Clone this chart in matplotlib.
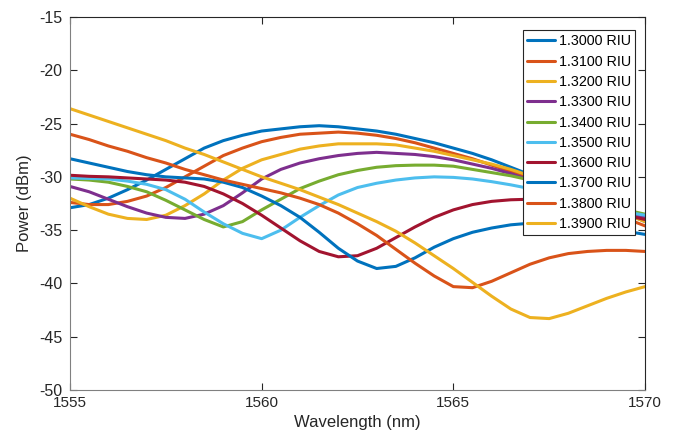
import numpy as np
import matplotlib
matplotlib.use("Agg")
import matplotlib.pyplot as plt

plt.rcParams['font.family'] = ['Liberation Sans', 'DejaVu Sans']
plt.rcParams['axes.unicode_minus'] = False

wavelength = np.arange(1555.0, 1570.01, 0.5)

labels = ['1.3000 RIU', '1.3100 RIU', '1.3200 RIU', '1.3300 RIU', '1.3400 RIU',
          '1.3500 RIU', '1.3600 RIU', '1.3700 RIU', '1.3800 RIU', '1.3900 RIU']

p_1300 = [-32.9, -32.6, -32.0, -31.2, -30.3, -29.3, -28.3, -27.3, -26.6, -26.1,
          -25.7, -25.5, -25.3, -25.2, -25.3, -25.5, -25.7, -26.0, -26.4, -26.8,
          -27.3, -27.8, -28.4, -29.1, -29.8, -30.5, -31.2, -31.9, -32.7, -33.4, -34.2]
p_1310 = [-32.4, -32.6, -32.6, -32.3, -31.8, -31.0, -30.0, -29.0, -28.0, -27.3,
          -26.7, -26.3, -26.0, -25.9, -25.8, -25.9, -26.1, -26.4, -26.8, -27.3,
          -27.8, -28.3, -28.9, -29.5, -30.1, -30.8, -31.6, -32.4, -33.1, -33.9, -34.6]
p_1320 = [-32.0, -32.8, -33.5, -33.9, -34.0, -33.6, -32.7, -31.6, -30.3, -29.2,
          -28.4, -27.9, -27.4, -27.1, -26.9, -26.9, -26.9, -27.0, -27.3, -27.6,
          -28.0, -28.4, -28.8, -29.3, -29.9, -30.6, -31.3, -32.1, -32.8, -33.5, -34.2]
p_1330 = [-30.9, -31.4, -32.1, -32.8, -33.4, -33.8, -33.9, -33.5, -32.7, -31.5,
          -30.2, -29.3, -28.7, -28.3, -28.0, -27.8, -27.7, -27.8, -27.9, -28.1,
          -28.4, -28.8, -29.2, -29.7, -30.3, -31.0, -31.6, -32.3, -32.9, -33.4, -33.8]
p_1340 = [-30.2, -30.3, -30.5, -30.9, -31.4, -32.2, -33.1, -34.0, -34.7, -34.2,
          -33.1, -32.1, -31.1, -30.4, -29.8, -29.4, -29.1, -28.95, -28.9, -28.9,
          -29.0, -29.3, -29.6, -29.9, -30.3, -30.8, -31.4, -32.0, -32.6, -33.1, -33.5]
p_1350 = [-30.1, -30.15, -30.2, -30.4, -30.7, -31.2, -32.1, -33.3, -34.4, -35.3,
          -35.8, -35.0, -33.8, -32.7, -31.7, -31.0, -30.6, -30.3, -30.1, -30.0,
          -30.05, -30.2, -30.45, -30.75, -31.1, -31.6, -32.1, -32.6, -33.0, -33.3, -33.6]
p_1360 = [-29.85, -29.95, -30.0, -30.1, -30.2, -30.3, -30.5, -30.9, -31.6, -32.5,
          -33.6, -34.8, -36.0, -37.0, -37.5, -37.4, -36.7, -35.7, -34.7, -33.8,
          -33.1, -32.6, -32.3, -32.15, -32.1, -32.2, -32.4, -32.8, -33.2, -33.6, -34.0]
p_1370 = [-28.3, -28.7, -29.1, -29.5, -29.8, -30.0, -30.1, -30.2, -30.5, -31.0,
          -31.8, -32.7, -33.8, -35.2, -36.7, -37.9, -38.6, -38.4, -37.6, -36.6,
          -35.8, -35.2, -34.8, -34.5, -34.35, -34.3, -34.3, -34.5, -34.8, -35.1, -35.4]
p_1380 = [-26.0, -26.5, -27.1, -27.6, -28.2, -28.7, -29.3, -29.8, -30.3, -30.7,
          -31.1, -31.5, -32.0, -32.6, -33.4, -34.4, -35.5, -36.8, -38.1, -39.3,
          -40.3, -40.4, -39.8, -39.0, -38.2, -37.6, -37.2, -37.0, -36.9, -36.9, -37.0]
p_1390 = [-23.6, -24.2, -24.8, -25.4, -26.0, -26.6, -27.3, -27.9, -28.6, -29.3,
          -30.0, -30.6, -31.2, -31.9, -32.6, -33.4, -34.2, -35.1, -36.2, -37.4,
          -38.6, -39.9, -41.2, -42.4, -43.2, -43.3, -42.8, -42.1, -41.4, -40.8, -40.3]

series = [p_1300, p_1310, p_1320, p_1330, p_1340, p_1350, p_1360, p_1370, p_1380, p_1390]

colors = ['#0072BD', '#D95319', '#EDB120', '#7E2F8E', '#77AC30',
          '#4DBEEE', '#A2142F', '#0072BD', '#D95319', '#EDB120']

x_ticks = [1555, 1560, 1565, 1570]
y_ticks = [-50, -45, -40, -35, -30, -25, -20, -15]

fig = plt.figure(figsize=(6.8, 4.43), dpi=100)
ax = fig.add_axes([70/680, 53/443, 575/680, 373/443])

for vals, c, lab in zip(series, colors, labels):
    ax.plot(wavelength, vals, color=c, lw=2.2, label=lab, solid_capstyle='round')

ax.set_xlim(1555, 1570)
ax.set_ylim(-50, -15)
ax.set_xticks(x_ticks)
ax.set_yticks(y_ticks)
axc = '#262626'
for s in ax.spines.values():
    s.set_color(axc)
    s.set_linewidth(0.8)
ax.spines['left'].set_color('#808080')
ax.spines['bottom'].set_color('#808080')
ax.tick_params(direction='in', length=5, width=0.8, colors=axc, labelsize=11,
               top=True, right=True, labelcolor='#262626')
ax.tick_params(axis='y', pad=5.5, labelsize=11.5)
ax.tick_params(axis='x', pad=4)
ax.set_xlabel('Wavelength (nm)', fontsize=12, color='#262626', labelpad=4)
ax.set_ylabel('Power (dBm)', fontsize=12, color='#262626', labelpad=5)

leg = ax.legend(loc='upper right', bbox_to_anchor=(0.983, 0.965), fontsize=10.3,
                frameon=True, fancybox=False, framealpha=1, edgecolor='#262626',
                handlelength=1.9, handletextpad=0.3, labelspacing=0.44,
                borderpad=0.3, borderaxespad=0.0)
leg.get_frame().set_linewidth(0.8)

fig.savefig('out.png', dpi=100)
